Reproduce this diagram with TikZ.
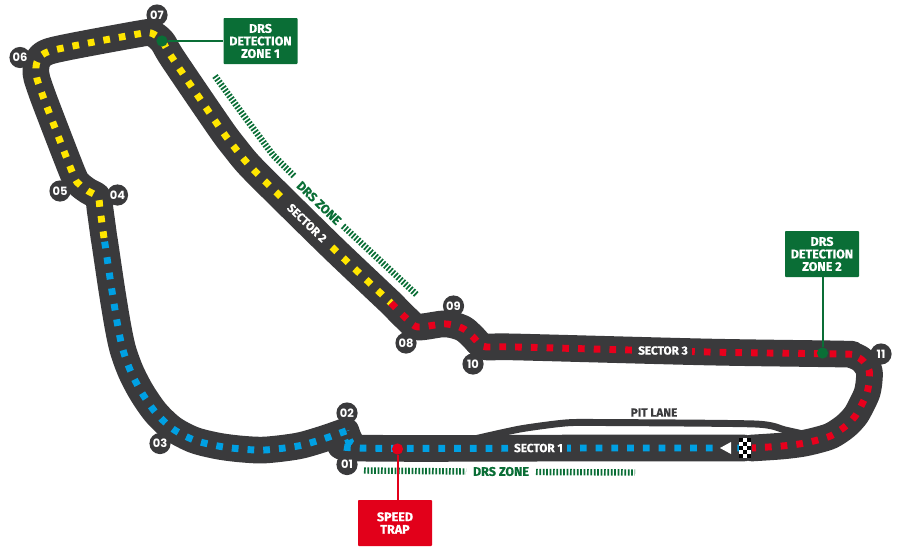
\documentclass[tikz,border=0pt]{standalone}
\usepackage{fontspec}
\usepackage{xcolor}
\setmainfont{Fira Sans}[BoldFeatures={FakeBold=0.5}]
\newfontfamily\numfont{Poppins}
\definecolor{trackgrey}{HTML}{3A3A3C}
\definecolor{drsgreen}{HTML}{0A6E36}
\definecolor{trapred}{HTML}{E2001A}
\definecolor{dotyellow}{HTML}{FFE600}
\definecolor{dotblue}{HTML}{00A0E3}
\definecolor{dotred}{HTML}{E8001C}
\tikzset{
  trackline/.style={draw=trackgrey,line width=20pt,line cap=round,line join=round},
  pitline/.style={draw=trackgrey,line width=5.2pt,line join=round},
  dotline/.style={line width=5.2pt,dash pattern=on 5pt off 6.8pt},
  zonehatch/.style={draw=drsgreen,line width=4.8pt,dash pattern=on 1.3pt off 1.25pt},
  turnlabel/.style={circle,fill=trackgrey,text=white,minimum size=15.9pt,inner sep=0pt,font=\numfont\bfseries\fontsize{8.6}{9}\selectfont},
  sectorlabel/.style={fill=trackgrey,text=white,inner xsep=3pt,inner ysep=1pt,font=\bfseries\fontsize{8.8}{9}\selectfont},
  zonelabel/.style={text=drsgreen,inner sep=0pt,font=\bfseries\fontsize{9.4}{9}\selectfont},
  infobox/.style={minimum width=55.5pt,minimum height=34.5pt,inner sep=0pt,rounded corners=0.6pt,text=white,align=center,font=\bfseries\fontsize{9.4}{9.4}\selectfont},
  infodot/.style={circle,minimum size=8.4pt,inner sep=0pt}
}
\def\sectorone{plot[smooth,tension=0.5] coordinates {(744,448) (600,448) (358,448) (350,441) (346,431)} plot[smooth,tension=0.5] coordinates {(346,431) (323,439) (298,446) (265,450) (241,449) (218,446) (194,440) (173,429) (156,413) (142,393) (131,372) (123,350) (118,327) (112,291) (105,244) (104,238)}}
\def\sectortwo{plot[smooth,tension=0.5] coordinates {(104,238) (100,209) (98,197) (88,191) (79,184) (73,174) (47,107) (39,85) (36,74) (37,62) (45,53) (68,47) (138,34) (151,33) (162,41) (173,59) (220,128) (235,148) (250,166) (283,199) (335,250) (391,303)}}
\def\sectorthree{plot[smooth,tension=0.5] coordinates {(391,303) (408,320) (418,327) (442,324) (453,325) (464,329) (473,337) (482,346) (493,347) (517,347) (708,352) (840,354) (852,355) (862,360) (869,370) (869,382) (867,393) (862,404) (856,415) (848,424) (839,431) (828,437) (805,443) (782,446) (752,448)}}

\begin{document}
\begin{tikzpicture}[x=0.75pt,y=0.75pt,yscale=-1,xscale=1]

\useasboundingbox (0,0) rectangle (900,553);

\draw [pitline] plot[smooth,tension=0.4] coordinates {(470,440) (520,429) (565,423) (600,422.5) (755,424) (785,430) (812,436)};

\draw [trackline] \sectorone \sectortwo \sectorthree;

\draw [dotline,dotblue] \sectorone;

\draw [dotline,dotyellow] \sectortwo;

\draw [dotline,dotred] \sectorthree;

\fill [trackgrey] (719,438) rectangle (736,458);

\fill [white] (720,448) -- (731,442) -- (731,454) -- cycle;

\fill [white] (739,438) rectangle (751,458);

\foreach \i in {0,1,2} {
  \foreach \j in {0,...,4} {
    \pgfmathparse{int(mod(\i+\j,2))}
    \ifnum\pgfmathresult=0
      \fill [black] (739+4*\i,438+4*\j) rectangle (743+4*\i,442+4*\j);
    \fi
  }
}

\draw [zonehatch] (364,470.5) -- (466,471.5);

\draw [zonehatch] (536,472) -- (635,472.5);

\draw [zonehatch] (215,76) -- (247,120) -- (273,155) -- (295,177);

\draw [zonehatch] (343,226) -- (417,295);

\node (drszonea) [zonelabel,rotate=-44] at (319,203) {DRS ZONE};

\node (drszoneb) [zonelabel] at (501,471.5) {DRS ZONE};

\node (sectora) [sectorlabel] at (538.5,448) {SECTOR 1};

\node (sectorb) [sectorlabel,rotate=-44] at (307,223) {SECTOR 2};

\node (sectorc) [sectorlabel] at (663,350.5) {SECTOR 3};

\node (pitlane) [text=trackgrey,inner sep=0pt,font=\bfseries\fontsize{8.8}{9}\selectfont] at (654,412.5) {PIT LANE};

\node (turna) [turnlabel] at (347,464.5) {01};

\node (turnb) [turnlabel] at (347,413) {02};

\node (turnc) [turnlabel] at (160,443.5) {03};

\node (turnd) [turnlabel] at (117.5,195) {04};

\node (turne) [turnlabel] at (60,191) {05};

\node (turnf) [turnlabel] at (20,57.5) {06};

\node (turng) [turnlabel] at (157,15) {07};

\node (turnh) [turnlabel] at (406,343) {08};

\node (turni) [turnlabel] at (453.5,306) {09};

\node (turnj) [turnlabel] at (473,364) {10};

\node (turnk) [turnlabel] at (881,354) {11};

\node (zoneboxa) [infobox,fill=drsgreen] at (260.5,41) {DRS\\DETECTION\\ZONE 1};

\node (zoneboxb) [infobox,fill=drsgreen] at (822,254) {DRS\\DETECTION\\ZONE 2};

\node (trapbox) [infobox,fill=trapred] at (395,523) {SPEED\\TRAP};

\node (zonedota) [infodot,fill=drsgreen] at (162,41) {};

\node (zonedotb) [infodot,fill=drsgreen] at (822.5,353) {};

\node (trapdot) [infodot,fill=trapred] at (397.5,449) {};

\draw [drsgreen,line width=1.5pt] (zonedota) -- (zoneboxa.west);

\draw [drsgreen,line width=1.5pt] (zonedotb) -- (zonedotb |- zoneboxb.south);

\draw [trapred,line width=1.5pt] (trapdot) -- (trapdot |- trapbox.north);

\end{tikzpicture}
\end{document}
